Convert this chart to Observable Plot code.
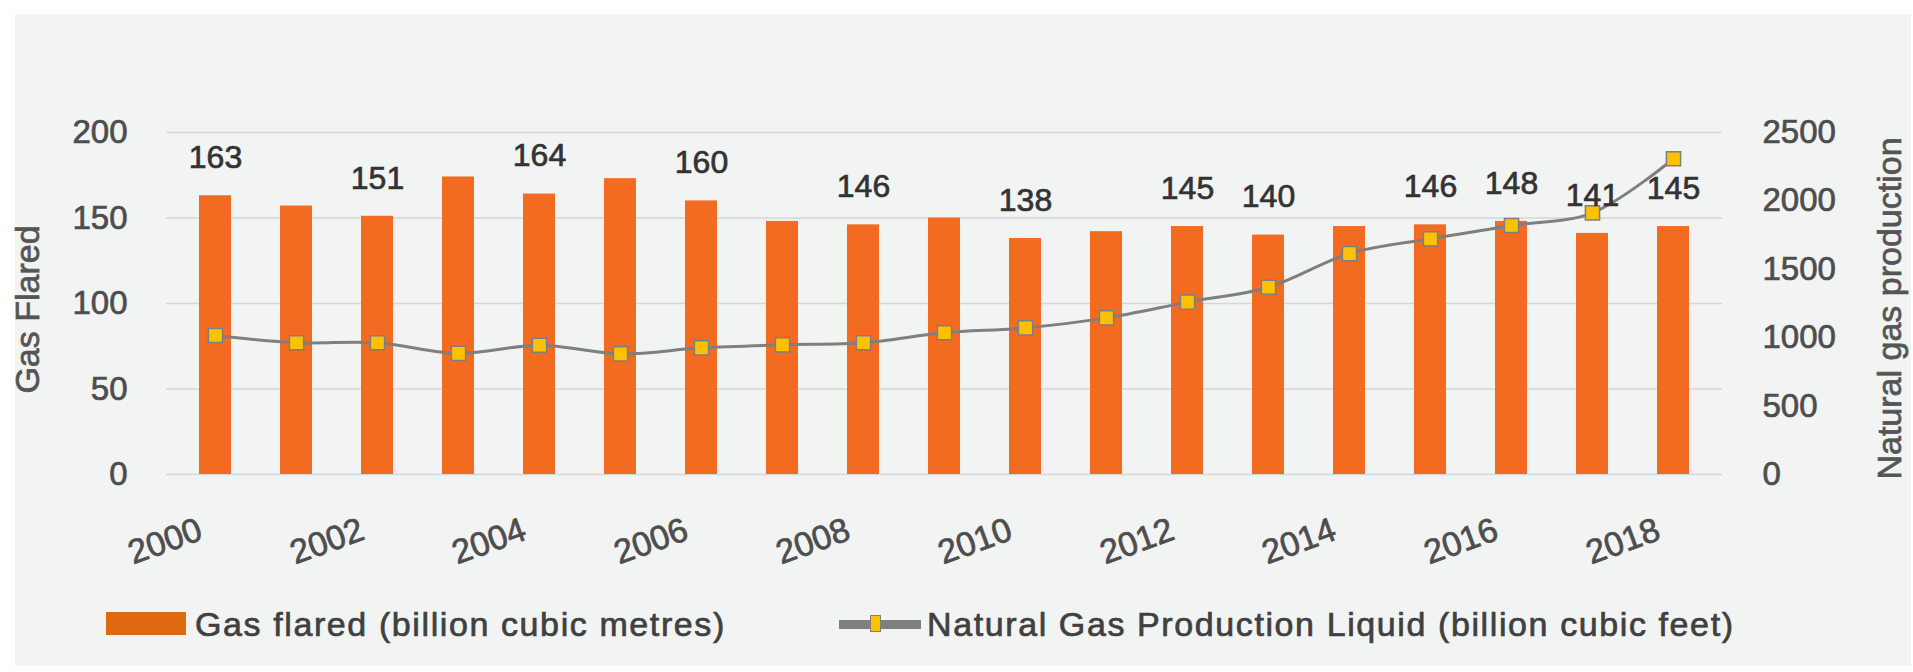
<!DOCTYPE html>
<html>
<head>
<meta charset="utf-8">
<script src="https://cdn.jsdelivr.net/npm/d3@7"></script>
<script src="https://cdn.jsdelivr.net/npm/@observablehq/plot@0.6"></script>
<style>
  html, body { margin: 0; padding: 0; background: #ffffff; }
  #panel { position: absolute; left: 15px; top: 14px; width: 1896px; height: 652px; background: #f2f3f3; }
  #chart { position: absolute; left: 0; top: 14px; }
  .legend-item { position: absolute; font-family: "Liberation Sans", Arial, sans-serif; font-size: 34px; letter-spacing: 1.6px; color: #404040; -webkit-text-stroke: 0.7px #404040; white-space: nowrap; line-height: 1; }
</style>
</head>
<body>
<div id="panel">
  <div id="legend"></div>
</div>
<div id="chart"></div>
<script>
// ---- data ----
const years = [2000, 2001, 2002, 2003, 2004, 2005, 2006, 2007, 2008, 2009, 2010, 2011, 2012, 2013, 2014, 2015, 2016, 2017, 2018];
const gasFlared = [163, 157, 151, 174, 164, 173, 160, 148, 146, 150, 138, 142, 145, 140, 145, 146, 148, 141, 145];
const gasProduction = [1016, 963, 963, 885, 945, 882, 926, 948, 963, 1036, 1072, 1145, 1260, 1369, 1615, 1723, 1820, 1913, 2308];
const barLabels = [163, null, 151, null, 164, null, 160, null, 146, null, 138, null, 145, 140, null, 146, 148, 141, 145];
const leftTicks = [0, 50, 100, 150, 200];
const rightTicks = [0, 500, 1000, 1500, 2000, 2500];
const xTicks = [2000, 2002, 2004, 2006, 2008, 2010, 2012, 2014, 2016, 2018];
const leftTitle = "Gas Flared";
const rightTitle = "Natural gas production";
const legendBars = "Gas flared (billion cubic metres)";
const legendLine = "Natural Gas Production Liquid (billion cubic feet)";

// right axis maps 0..2500 onto left 0..200
const ratio = rightTicks[rightTicks.length - 1] / leftTicks[leftTicks.length - 1];

const data = years.map((year, i) => ({year, flared: gasFlared[i], prod: gasProduction[i], label: barLabels[i]}));

const barColor = "#f36a21";
const lineColor = "#7f7f7f";
const markerColor = "#ffc000";
const font = "Liberation Sans, Arial, sans-serif";

const chart = Plot.plot({
  width: 1913,
  height: 560,
  marginLeft: 166,
  marginRight: 191,
  marginTop: 118,
  marginBottom: 100,
  style: {background: "transparent", fontFamily: font, color: "#4d4d4d", overflow: "visible"},
  x: {type: "band", domain: years, paddingInner: 0.6, paddingOuter: 0.3},
  y: {domain: [0, 200]},
  marks: [
    Plot.ruleY(leftTicks, {stroke: "#d6d6d6", strokeWidth: 1.5}),
    Plot.barY(data, {x: "year", y: "flared", fill: barColor}),
    Plot.line(data, {x: "year", y: d => d.prod / ratio, stroke: lineColor, strokeWidth: 3, curve: "catmull-rom"}),
    Plot.dot(data, {x: "year", y: d => d.prod / ratio, symbol: "square", r: 8, fill: markerColor, stroke: lineColor, strokeWidth: 1.5}),
    Plot.text(data.filter(d => d.label != null), {x: "year", y: "label", text: d => String(d.label), dy: -38, fontSize: 32, fill: "#333333"}),
    Plot.axisY(leftTicks, {anchor: "left", tickSize: 0, tickPadding: 39, fontSize: 33, label: null, fill: "#4d4d4d"}),
    Plot.axisY(rightTicks.map(v => v / ratio), {anchor: "right", tickSize: 0, tickPadding: 40, fontSize: 33, label: null, fill: "#4d4d4d", tickFormat: d => String(Math.round(d * ratio))}),
    Plot.axisX(xTicks, {anchor: "bottom", tickSize: 0, tickRotate: -20, tickPadding: 54, dx: -15, fontSize: 34, label: null, fill: "#4d4d4d", tickFormat: d => String(d)}),
    Plot.text([leftTitle], {text: d => d, frameAnchor: "left", textAnchor: "middle", dx: -138, dy: 6, rotate: -90, fontSize: 34, fill: "#555555", ariaLabel: "ytitle"}),
    Plot.text([rightTitle], {text: d => d, frameAnchor: "right", textAnchor: "middle", dx: 168, dy: 5, rotate: -90, fontSize: 34, fill: "#555555", ariaLabel: "ytitle"})
  ]
});
document.getElementById("chart").appendChild(chart);
d3.select(chart).selectAll("g[aria-label='ytitle'] text").style("letter-spacing", "1.6px");
// slightly heavier text, like the reference
d3.select(chart).selectAll("text").each(function() {
  const f = window.getComputedStyle(this).fill;
  d3.select(this).attr("stroke", f).attr("stroke-width", 0.7).attr("paint-order", "stroke");
});

// ---- legend (below the SVG) ----
const legend = document.getElementById("legend");
legend.innerHTML = `
  <div style="position:absolute;left:91px;top:598px;width:80px;height:23px;background:#e0680f;"></div>
  <div class="legend-item" style="left:180px;top:593px;">${legendBars}</div>
  <div style="position:absolute;left:824px;top:606px;width:82px;height:9px;background:${lineColor};"></div>
  <div style="position:absolute;left:855px;top:601px;width:11px;height:17px;background:${markerColor};border:1.5px solid ${lineColor};box-sizing:border-box;"></div>
  <div class="legend-item" style="left:912px;top:593px;">${legendLine}</div>
`;
</script>
</body>
</html>
